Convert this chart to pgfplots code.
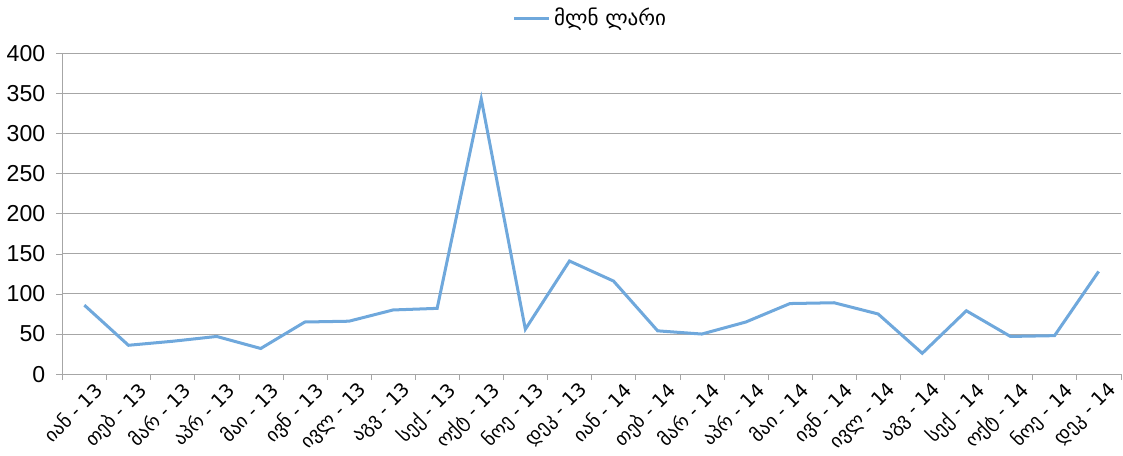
\documentclass[border=0pt]{standalone}
\usepackage{pgfplots}
\pgfplotsset{compat=1.18}
\usepackage{fontspec}
\setmainfont{Liberation Sans}
\newfontfamily\geo{DejaVu Sans}
\definecolor{lineblue}{RGB}{111,168,220}
\definecolor{gridgray}{RGB}{166,166,166}
\begin{document}
\begin{tikzpicture}
\begin{axis}[
  scale only axis,
  width=527.5pt, height=160pt,
  xmin=-0.5, xmax=23.5,
  ymin=0, ymax=400,
  ytick={0,50,...,400},
  xtick={0,...,23},
  xticklabels={იან - 13,თებ - 13,მარ - 13,აპრ - 13,მაი - 13,ივნ - 13,ივლ - 13,აგვ - 13,სექ - 13,ოქტ - 13,ნოე - 13,დეკ - 13,იან - 14,თებ - 14,მარ - 14,აპრ - 14,მაი - 14,ივნ - 14,ივლ - 14,აგვ - 14,სექ - 14,ოქტ - 14,ნოე - 14,დეკ - 14},
  x tick label style={font=\geo\fontsize{9.5}{11}\selectfont, rotate=45, anchor=north east, inner sep=1pt, xshift=4pt, yshift=-2pt},
  y tick label style={font=\fontsize{11.5}{13}\selectfont, xshift=-2pt},
  /pgf/number format/assume math mode=true,
  minor xtick={-0.5,0.5,...,23.5},
  major x tick style={draw=none},
  minor x tick style={gridgray},
  tick align=outside,
  minor tick length=3pt,
  major tick length=3pt,
  y tick style={gridgray},
  ymajorgrids,
  grid style={gridgray, line width=0.5pt},
  axis x line*=bottom,
  axis y line*=left,
  axis line style={gridgray, line width=0.5pt},
  x axis line style={-},
  y axis line style={-},
  legend style={at={(0.5,1.0)}, anchor=south, draw=none, font=\geo\fontsize{10.5}{12}\selectfont, yshift=8pt},
  legend cell align=left,
  legend image post style={line width=1.5pt},
]
\addplot[lineblue, line width=1.5pt] coordinates {
(0,86) (1,36) (2,41) (3,47) (4,32) (5,65) (6,66) (7,80) (8,82) (9,343) (10,56) (11,141)
(12,116) (13,54) (14,50) (15,65) (16,88) (17,89) (18,75) (19,26) (20,79) (21,47) (22,48) (23,128)
};
\addlegendentry{მლნ ლარი}
\end{axis}
\end{tikzpicture}
\end{document}
